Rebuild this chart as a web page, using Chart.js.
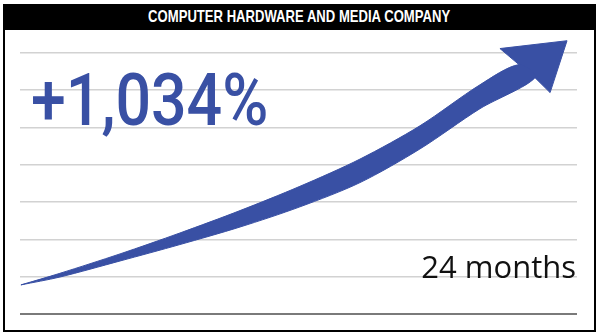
<!DOCTYPE html>
<html>
<head>
<meta charset="utf-8">
<script src="https://cdn.jsdelivr.net/npm/chart.js@4.4.1/dist/chart.umd.min.js"></script>
<style>
  html, body { margin: 0; padding: 0; background: #fff; }
  body { width: 600px; height: 334px; position: relative; overflow: hidden; }
  #frame {
    position: absolute; left: 3px; top: 4px; width: 593px; height: 328px;
    box-sizing: border-box; border: 2.5px solid #000; border-top: none;
  }
  #title {
    position: absolute; left: 3px; top: 4px; width: 593px; height: 26px;
    background: #000; color: #fff; text-align: center;
    font: bold 17px "Liberation Sans", Arial, sans-serif; line-height: 26px;
  }
  #title span { display: inline-block; transform: scaleX(0.77); white-space: nowrap; }
  #chartWrap { position: absolute; left: 0; top: 0; width: 600px; height: 334px; }
  #growth {
    position: absolute; left: 31px; top: 65px;
    font: 500 72px Roboto, "Liberation Sans", sans-serif;
    line-height: 72px; color: #3950a4; white-space: nowrap;
    transform: scaleX(0.87); transform-origin: left top;
  }
  #period {
    position: absolute; right: 24px; top: 251px;
    font: 31px "Open Sans", sans-serif; line-height: 30px; color: #111; white-space: nowrap;
  }
</style>
</head>
<body>
<div id="frame"></div>
<div id="title"><span>COMPUTER HARDWARE AND MEDIA COMPANY</span></div>
<div id="chartWrap"><canvas id="growthChart" width="600" height="334"></canvas></div>
<div id="growth">+1,034%</div>
<div id="period">24 months</div>
<script>
// arrow edges, x in months (0-24), y in grid steps (0-7)
const upperX = [0.04, 1.72, 4.31, 6.89, 9.48, 12.06, 14.65, 17.23, 19.82, 21.50];
const upperY = [0.78, 1.09, 1.61, 2.17, 2.77, 3.42, 4.15, 5.04, 6.14, 6.68];
const lowerX = [0.04, 1.72, 4.31, 6.89, 9.48, 12.06, 14.65, 17.23, 19.82, 22.19];
const lowerY = [0.78, 0.99, 1.42, 1.86, 2.33, 2.87, 3.52, 4.42, 5.50, 6.33];
// arrow head outline
const headX = [21.50, 20.68, 23.57, 22.84, 22.19];
const headY = [6.68, 7.11, 7.32, 5.93, 6.33];
const gridSteps = [0, 1, 2, 3, 4, 5, 6, 7];
const yTop = 7.5; // head pokes above the top gridline

const blue = '#3950a4';

// body outline: upper edge forward, lower edge back to the tail
const bodyPts = upperX.map((x, i) => ({ x: x, y: upperY[i] }));
for (let i = lowerX.length - 1; i >= 0; i--) {
    bodyPts.push({ x: lowerX[i], y: lowerY[i] });
}
const headPts = headX.map((x, i) => ({ x: x, y: headY[i] }));
headPts.push({ x: headX[0], y: headY[0] });

const lastStep = gridSteps[gridSteps.length - 1];

new Chart(document.getElementById('growthChart'), {
    type: 'scatter',
    data: {
        datasets: [
            {
                data: bodyPts,
                showLine: true,
                fill: 'shape',
                tension: 0.3,
                backgroundColor: blue,
                borderColor: blue,
                borderWidth: 1,
                pointRadius: 0
            },
            {
                data: headPts,
                showLine: true,
                fill: 'shape',
                tension: 0,
                backgroundColor: blue,
                borderColor: blue,
                borderWidth: 1,
                pointRadius: 0
            }
        ]
    },
    options: {
        responsive: false,
        animation: false,
        layout: { padding: { left: 20, right: 23, top: 34, bottom: 20 } },
        plugins: { legend: { display: false }, tooltip: { enabled: false } },
        scales: {
            x: { type: 'linear', min: 0, max: 24, display: false },
            y: {
                min: gridSteps[0],
                max: yTop,
                ticks: { display: false, stepSize: 1 },
                border: { display: false },
                grid: {
                    drawTicks: false,
                    color: c => {
                        if (!c.tick || c.tick.value > lastStep) return 'rgba(0,0,0,0)';
                        return c.tick.value === 0 ? '#7a7a7a' : '#d2d2d2';
                    },
                    lineWidth: c => c.tick && c.tick.value === 0 ? 2 : 1.5
                }
            }
        }
    }
});
</script>
</body>
</html>
